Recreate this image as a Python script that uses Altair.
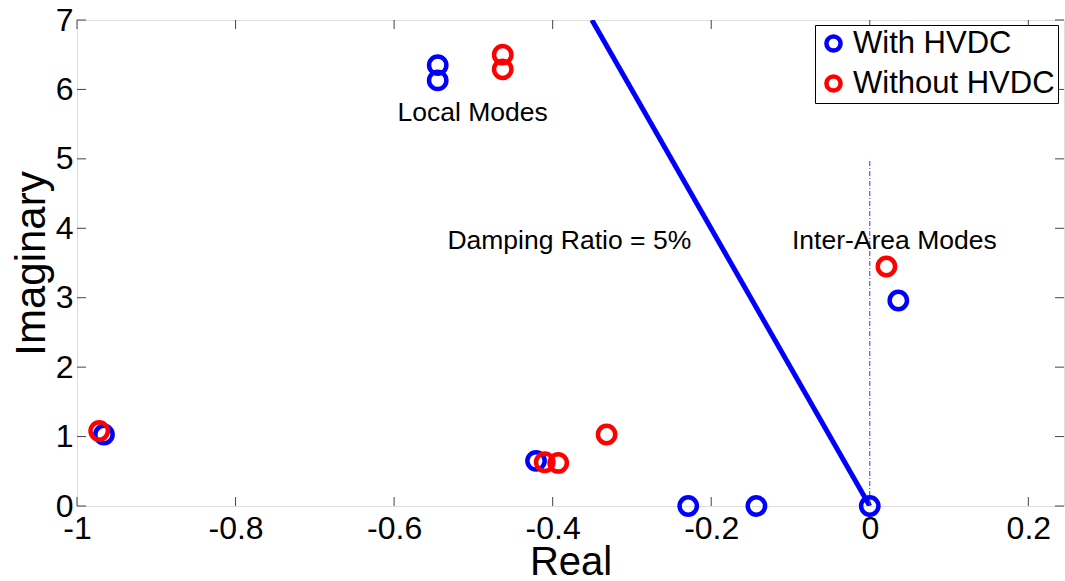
import altair as alt
import pandas as pd

# Eigenvalue data
with_re = [-0.545, -0.545, -0.966, -0.421, -0.229, -0.143, 0.0, 0.036]
with_im = [6.35, 6.13, 1.03, 0.65, 0.0, 0.0, 0.0, 2.96]
without_re = [-0.463, -0.463, -0.972, -0.410, -0.393, -0.332, 0.021]
without_im = [6.50, 6.29, 1.08, 0.63, 0.62, 1.03, 3.45]

series = ["With HVDC", "Without HVDC"]
colors = ["#0000ff", "#ff0000"]

# Damping ratio 5% line
damp_re = [0.0, -0.3505]
damp_im = [0.0, 7.0]

# Vertical dash-dot line at real = 0
vline_re = [0.0, 0.0]
vline_im = [0.0, 5.0]

# Annotations
ann_text = ["Local Modes", "Damping Ratio = 5%", "Inter-Area Modes"]
ann_re = [-0.501, -0.379, 0.031]
ann_im = [5.66, 3.82, 3.82]

x_ticks = [-1, -0.8, -0.6, -0.4, -0.2, 0, 0.2]
y_ticks = [0, 1, 2, 3, 4, 5, 6, 7]

W, H = 987, 486
FONT = "Liberation Sans"

pts = pd.DataFrame({
    "re": with_re + without_re,
    "im": with_im + without_im,
    "series": [series[0]] * len(with_re) + [series[1]] * len(without_re),
    "order": list(range(len(with_re) + len(without_re))),
})

xscale = alt.Scale(domain=[-1, 0.245], nice=False, zero=False)
yscale = alt.Scale(domain=[0, 7], nice=False, zero=False)

lbl = "datum.value < 0 ? '-' + format(-datum.value, '~g') : format(datum.value, '~g')"

xaxis = alt.Axis(values=x_ticks, ticks=False, domain=False, grid=False,
                 labelExpr=lbl, labelFont=FONT, labelFontSize=32, labelColor="black",
                 labelPadding=7, labelFlush=False, labelOverlap=False,
                 title="Real", titleFont=FONT, titleFontSize=40,
                 titleFontWeight="normal", titleColor="black", titlePadding=-2)
yaxis = alt.Axis(values=y_ticks, ticks=False, domain=False, grid=False,
                 labelExpr=lbl, labelFont=FONT, labelFontSize=32, labelColor="black",
                 labelPadding=4, labelFlush=False, labelOverlap=False,
                 title="Imaginary", titleFont=FONT, titleFontSize=42,
                 titleFontWeight="normal", titleColor="black", titlePadding=2)

damp = alt.Chart(pd.DataFrame({"re": damp_re, "im": damp_im})).mark_line(
    color="#0000ff", strokeWidth=5, clip=True
).encode(
    x=alt.X("re:Q", scale=xscale, axis=xaxis),
    y=alt.Y("im:Q", scale=yscale, axis=yaxis),
)

vline = alt.Chart(pd.DataFrame({"re": vline_re, "im": vline_im})).mark_line(
    color="#3333ff", strokeWidth=1, strokeDash=[5, 2, 1, 2]
).encode(
    x=alt.X("re:Q", scale=xscale),
    y=alt.Y("im:Q", scale=yscale),
)

points = alt.Chart(pts).mark_point(
    shape="circle", filled=False, strokeWidth=4.5, size=300, opacity=1, clip=False
).encode(
    x=alt.X("re:Q", scale=xscale),
    y=alt.Y("im:Q", scale=yscale),
    color=alt.Color("series:N", scale=alt.Scale(domain=series, range=colors),
                    legend=alt.Legend(title=None, orient="none", legendX=738, legendY=5,
                                      labelFont=FONT, labelFontSize=31, labelColor="black",
                                      symbolType="circle", symbolSize=200, symbolStrokeWidth=4.5,
                                      symbolFillColor="white",
                                      fillColor="white", strokeColor="black",
                                      padding=3, rowPadding=7, labelOffset=4,
                                      labelLimit=400)),
    order=alt.Order("order:Q"),
)

texts = alt.Chart(pd.DataFrame({"t": ann_text, "re": ann_re, "im": ann_im})).mark_text(
    font=FONT, fontSize=26.5, color="black", align="center", baseline="middle"
).encode(
    x=alt.X("re:Q", scale=xscale),
    y=alt.Y("im:Q", scale=yscale),
    text="t:N",
)

tick_col = "#444444"
xt = pd.DataFrame({"v": x_ticks})
yt = pd.DataFrame({"v": y_ticks})
xt_bot = alt.Chart(xt).mark_rule(color=tick_col, strokeWidth=1).encode(
    x=alt.X("v:Q", scale=xscale), y=alt.value(H), y2=alt.value(H - 9))
xt_top = alt.Chart(xt).mark_rule(color=tick_col, strokeWidth=1).encode(
    x=alt.X("v:Q", scale=xscale), y=alt.value(0), y2=alt.value(9))
yt_left = alt.Chart(yt).mark_rule(color=tick_col, strokeWidth=1).encode(
    y=alt.Y("v:Q", scale=yscale), x=alt.value(0), x2=alt.value(9))
yt_right = alt.Chart(yt).mark_rule(color=tick_col, strokeWidth=1).encode(
    y=alt.Y("v:Q", scale=yscale), x=alt.value(W), x2=alt.value(W - 9))

chart = alt.layer(
    damp, vline, xt_bot, xt_top, yt_left, yt_right, texts, points
).properties(
    width=W, height=H,
    autosize=alt.AutoSizeParams(type="none"),
    padding={"left": 77, "top": 20, "right": 1, "bottom": 75},
).configure_view(
    stroke="black", strokeWidth=1.5
).configure(background="white")

chart.save("out.html", embed_options={"renderer": "svg", "actions": False})
